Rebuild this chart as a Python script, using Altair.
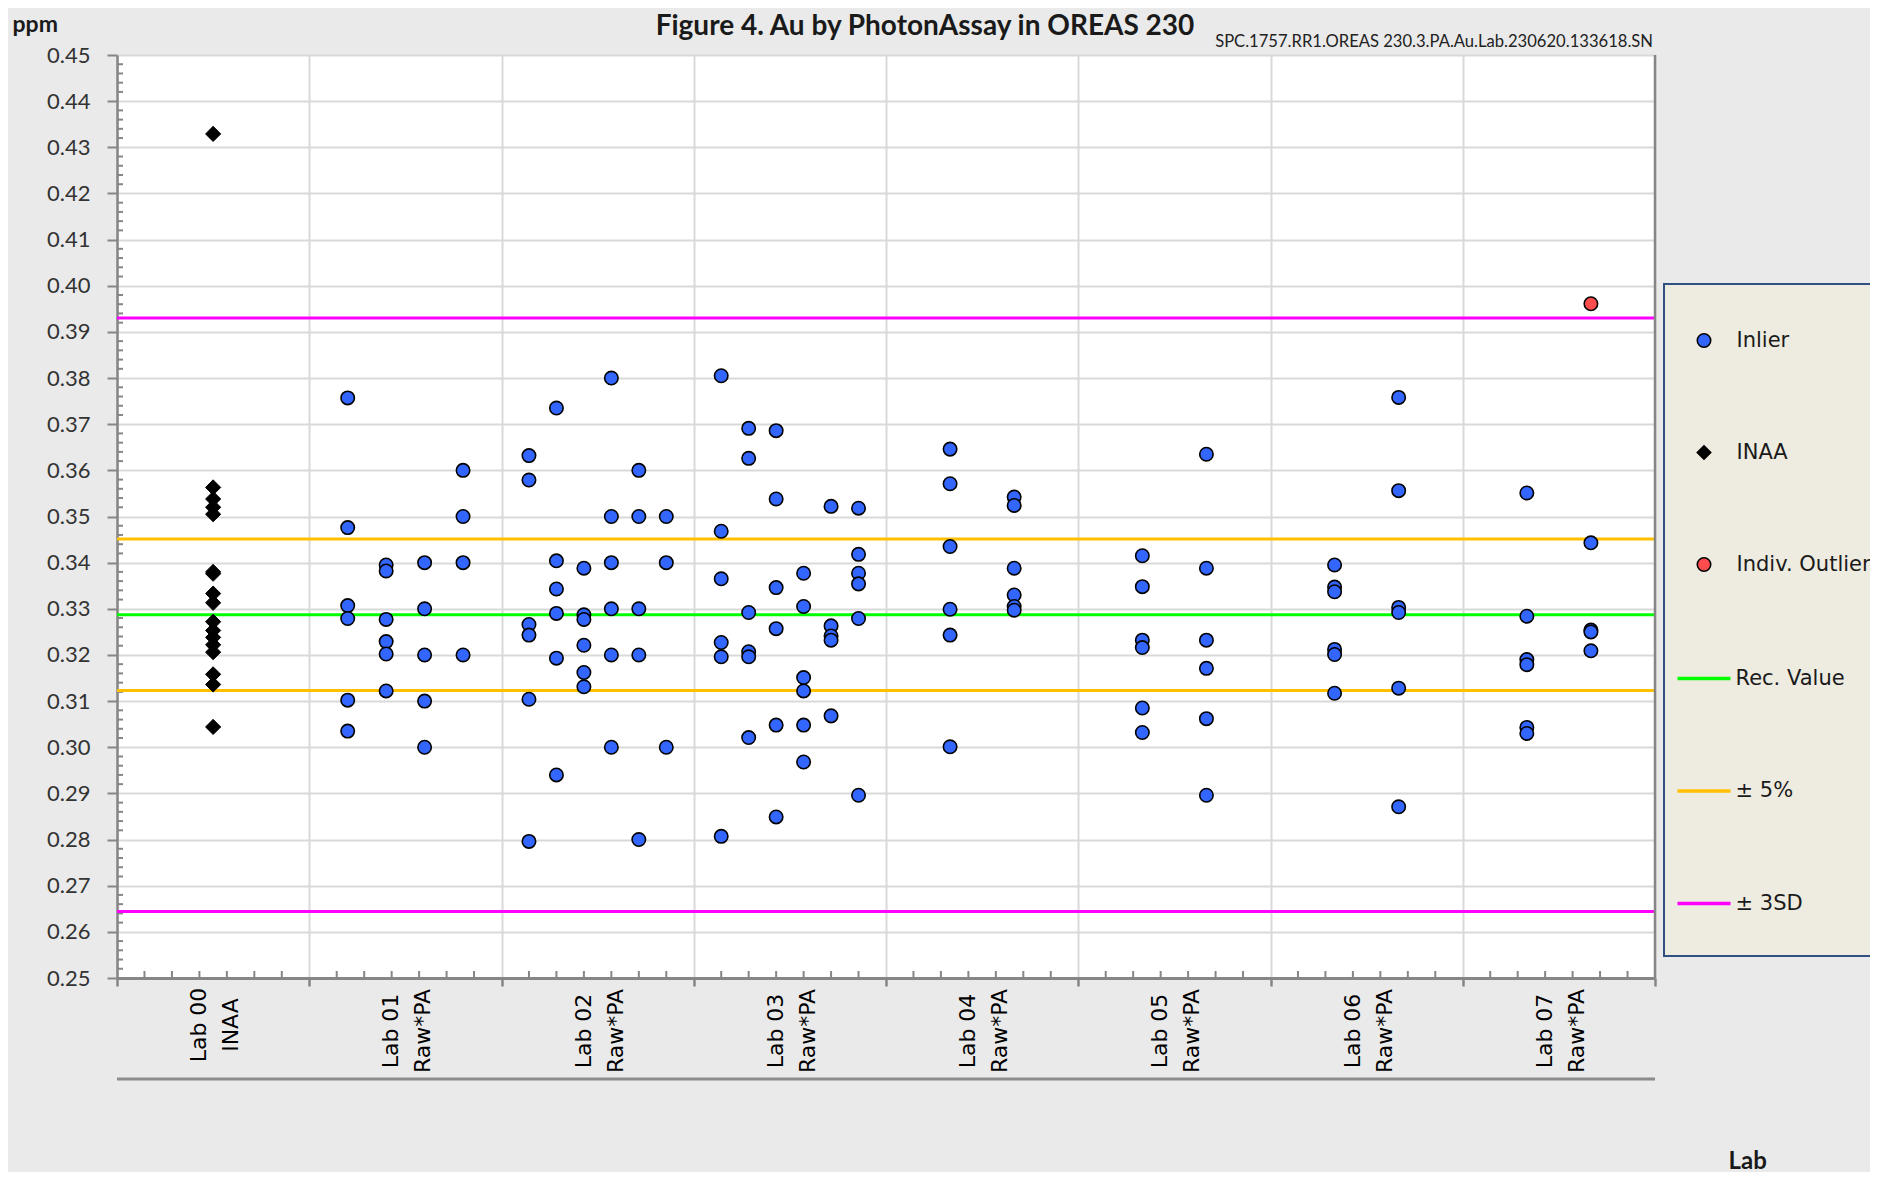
import altair as alt
import pandas as pd

# ---------------- data ----------------
LABS = ["Lab 00", "Lab 01", "Lab 02", "Lab 03", "Lab 04", "Lab 05", "Lab 06", "Lab 07"]
METHODS = ["INAA", "Raw*PA", "Raw*PA", "Raw*PA", "Raw*PA", "Raw*PA", "Raw*PA", "Raw*PA"]

LAB00 = [[0.4329, 0.3563, 0.3538, 0.3520, 0.3505, 0.3380, 0.3376, 0.3333, 0.3313,
          0.3272, 0.3253, 0.3238, 0.3222, 0.3206, 0.3158, 0.3136, 0.3044]]
LAB01 = [[0.3757, 0.3476, 0.3307, 0.3279, 0.3102, 0.3035],
         [0.3395, 0.3382, 0.3277, 0.3229, 0.3202, 0.3122],
         [0.340, 0.330, 0.320, 0.310, 0.300],
         [0.360, 0.350, 0.340, 0.320]]
LAB02 = [[0.3632, 0.3579, 0.3266, 0.3243, 0.3104, 0.2796],
         [0.3735, 0.3404, 0.3343, 0.3290, 0.3193, 0.2940],
         [0.3388, 0.3287, 0.3277, 0.3221, 0.3162, 0.3131],
         [0.380, 0.350, 0.340, 0.330, 0.320, 0.300],
         [0.360, 0.350, 0.330, 0.320, 0.280],
         [0.350, 0.340, 0.300]]
LAB03 = [[0.3805, 0.3468, 0.3365, 0.3227, 0.3196, 0.2807],
         [0.3691, 0.3626, 0.3292, 0.3207, 0.3196, 0.3021],
         [0.3686, 0.3538, 0.3346, 0.3257, 0.3048, 0.2849],
         [0.3377, 0.3305, 0.3151, 0.3122, 0.3048, 0.2968],
         [0.3522, 0.3263, 0.3241, 0.3232, 0.3068],
         [0.3518, 0.3418, 0.3377, 0.3354, 0.3279, 0.2896]]
LAB04 = [[0.3646, 0.3571, 0.3435, 0.3299, 0.3243, 0.3001],
         [0.3542, 0.3524, 0.3388, 0.3330, 0.3305, 0.3297]]
LAB05 = [[0.3415, 0.3348, 0.3232, 0.3216, 0.3085, 0.3032],
         [0.3635, 0.3388, 0.3232, 0.3171, 0.3062, 0.2896]]
LAB06 = [[0.3395, 0.3347, 0.3337, 0.3212, 0.3201, 0.3117],
         [0.3758, 0.3556, 0.3303, 0.3292, 0.3128, 0.2871]]
LAB07 = [[0.3551, 0.3284, 0.3190, 0.3179, 0.3043, 0.3030],
         [0.3443, 0.3254, 0.3250, 0.3209]]
LAB07_OUTLIER_BATCH = 1
LAB07_OUTLIERS = [0.3961]

REC_VALUE = 0.3287
PLUS_MINUS_5 = [0.3123, 0.3451]
PLUS_MINUS_3SD = [0.2644, 0.3930]

TYPES = ["Inlier", "INAA", "Indiv. Outlier"]
TYPE_COLORS = ["#3366FF", "#000000", "#FF4D4D"]
TYPE_SHAPES = ["circle", "diamond", "circle"]
SERIES = ["Rec. Value", "± 5%", "± 3SD"]
SERIES_COLORS = ["#00FF00", "#FFC000", "#FF00FF"]

TITLE = "Figure 4. Au by PhotonAssay in OREAS 230"
SUBTITLE = "SPC.1757.RR1.OREAS 230.3.PA.Au.Lab.230620.133618.SN"

# ---------------- tables ----------------
ALL_LABS = [LAB00, LAB01, LAB02, LAB03, LAB04, LAB05, LAB06, LAB07]
rows = []
for li, groups in enumerate(ALL_LABS):
    nb = len(groups)
    for b, vals in enumerate(groups):
        for v in vals:
            rows.append({"lab": LABS[li], "li": li, "batch": b, "nb": nb, "value": v,
                         "type": "INAA" if li == 0 else "Inlier"})
for v in LAB07_OUTLIERS:
    rows.append({"lab": LABS[7], "li": 7, "batch": LAB07_OUTLIER_BATCH, "nb": len(LAB07),
                 "value": v, "type": "Indiv. Outlier"})
points = pd.DataFrame(rows)

lines = pd.DataFrame({
    "value": [REC_VALUE] + PLUS_MINUS_5 + PLUS_MINUS_3SD,
    "series": ["Rec. Value", "± 5%", "± 5%", "± 3SD", "± 3SD"],
})

labels = pd.DataFrame({"li": list(range(len(LABS))),
                       "label": [f"{a}\n{b}" for a, b in zip(LABS, METHODS)]})

Y_MAJOR = [round(0.25 + 0.01 * k, 2) for k in range(21)]
Y_MINOR = [round(0.25 + 0.002 * k, 3) for k in range(101) if k % 5 != 0]
X_MAJOR = list(range(len(LABS) + 1))
X_MINOR = [i + k / 7 for i in range(len(LABS)) for k in range(1, 7)]

W, H = 1538, 923
AXIS_GRAY = "#868686"
GRID_GRAY = "#D9D9D9"

xscale = alt.Scale(domain=[0, len(LABS)], nice=False, zero=False)
yscale = alt.Scale(domain=[0.25, 0.45], nice=False, zero=False)

AX_Y = alt.Axis(
    values=Y_MAJOR, format=".2f", grid=True, gridColor=GRID_GRAY, gridWidth=2,
    tickSize=10, tickColor=AXIS_GRAY, tickWidth=2, domainColor=AXIS_GRAY, domainWidth=2.5,
    labelFont="Lato", labelFontSize=22, labelColor="#333333", labelPadding=17,
    labelFlush=False, labelOverlap=False,
    title="ppm", titleAngle=0, titleX=-105, titleY=-24, titleAlign="left",
    titleBaseline="alphabetic", titleFont="Lato", titleFontSize=23,
    titleFontWeight="bold", titleColor="#1A1A1A")
AX_X = alt.Axis(
    values=X_MAJOR, labels=False, grid=True, gridColor=GRID_GRAY, gridWidth=2,
    tickSize=8, tickColor=AXIS_GRAY, tickWidth=2.5, domainColor=AXIS_GRAY, domainWidth=3,
    title="Lab", titleX=1611, titleY=190, titleAlign="left", titleBaseline="alphabetic",
    titleFont="Lato", titleFontSize=24, titleFontWeight="bold", titleColor="#1A1A1A")


def X(field):
    return alt.X(field, scale=xscale, axis=AX_X)


def Y(field):
    return alt.Y(field, scale=yscale, axis=AX_Y)


one = pd.DataFrame({"k": [0]})

# legend box
box = alt.Chart(one).mark_rect(fill="#EEEBE0", stroke="#2F5080", strokeWidth=2).encode(
    x=alt.value(1547), x2=alt.value(1900), y=alt.value(229), y2=alt.value(901))

# y minor ticks (inside)
ymin = alt.Chart(pd.DataFrame({"my": Y_MINOR})).mark_rule(color=AXIS_GRAY, strokeWidth=2).encode(
    y=Y("my:Q"), x=alt.value(0), x2=alt.value(6))

# x minor ticks (inside)
xmin = alt.Chart(pd.DataFrame({"mx": X_MINOR})).mark_rule(color=AXIS_GRAY, strokeWidth=2).encode(
    x=X("mx:Q"), y=alt.value(H), y2=alt.value(H - 7))

# right border of the plot
right = alt.Chart(one).mark_rule(color=AXIS_GRAY, strokeWidth=2.5).encode(
    x=alt.datum(len(LABS), scale=xscale, axis=AX_X))

# line under the category labels
under = alt.Chart(one).mark_rule(color="#8C8C8C", strokeWidth=3).encode(
    x=alt.datum(0, scale=xscale, axis=AX_X), x2=alt.datum(len(LABS)), y=alt.value(1024))

# reference lines
ref = alt.Chart(lines).mark_rule(strokeWidth=3).encode(
    y=Y("value:Q"),
    stroke=alt.Stroke("series:N", scale=alt.Scale(domain=SERIES, range=SERIES_COLORS),
                      legend=alt.Legend(title=None, orient="none", legendX=1558.5, legendY=595,
                                        symbolType="stroke", symbolSize=2809, symbolStrokeWidth=3.5,
                                        labelFont="DejaVu Sans", labelFontSize=21,
                                        labelColor="#1A1A1A", labelOffset=3, rowPadding=73.5,
                                        padding=0)))

pt_legend = alt.Legend(title=None, orient="none", legendX=1576.5, legendY=275,
                       labelFont="DejaVu Sans", labelFontSize=21, labelColor="#1A1A1A",
                       labelOffset=22, rowPadding=90, padding=0, symbolSize=180,
                       symbolStrokeWidth=1.6, symbolOpacity=1)

base_pts = alt.Chart(points).transform_calculate(
    xpos="datum.li + (datum.batch + 1) / (datum.nb + 1)")


def pts_enc(ch):
    return ch.encode(
        x=X("xpos:Q"),
        y=Y("value:Q"),
        fill=alt.Fill("type:N", scale=alt.Scale(domain=TYPES, range=TYPE_COLORS), legend=pt_legend),
        shape=alt.Shape("type:N", scale=alt.Scale(domain=TYPES, range=TYPE_SHAPES), legend=pt_legend),
    )


circles = pts_enc(base_pts.transform_filter("datum.type != 'INAA'").mark_point(
    filled=True, size=180, stroke="black", strokeWidth=1.6, opacity=1))
diamonds = pts_enc(base_pts.transform_filter("datum.type == 'INAA'").mark_point(
    filled=True, size=230, stroke="black", strokeWidth=1, opacity=1))

# category labels (two lines, rotated)
lab_text = alt.Chart(labels).transform_calculate(xc="datum.li + 0.5")
txt_kw = dict(angle=270, align="center", baseline="middle", lineBreak="\n", lineHeight=32,
              font="DejaVu Sans", fontSize=22, color="black", dy=-14)
lab0 = lab_text.transform_filter("datum.li == 0").mark_text(**txt_kw).encode(
    x=X("xc:Q"), text="label:N", y=alt.value(970))
labn = lab_text.transform_filter("datum.li > 0").mark_text(**txt_kw).encode(
    x=X("xc:Q"), text="label:N", y=alt.value(976))

sub = alt.Chart(pd.DataFrame({"t": [SUBTITLE]})).mark_text(
    align="right", baseline="alphabetic", font="Lato", fontSize=16.6, color="#222222", dx=-2).encode(
    x=alt.datum(len(LABS), scale=xscale, axis=AX_X), y=alt.value(-8.5), text="t:N")

ttl = alt.Chart(pd.DataFrame({"t": [TITLE]})).mark_text(
    align="center", baseline="alphabetic", font="Lato", fontSize=28, fontWeight="bold",
    color="#1A1A1A").encode(x=alt.value(808), y=alt.value(-20), text="t:N")

chart = alt.layer(box, ymin, xmin, ref, right, under, circles, diamonds, lab0, labn, sub, ttl).properties(
    width=W, height=H,
    autosize=alt.AutoSizeParams(type="none"),
    padding={"left": 109, "top": 47, "right": 215, "bottom": 194},
).configure(background="#EAEAEA").configure_view(fill="white", strokeWidth=0)

chart.save("out.html", embed_options={"renderer": "svg", "actions": False})
